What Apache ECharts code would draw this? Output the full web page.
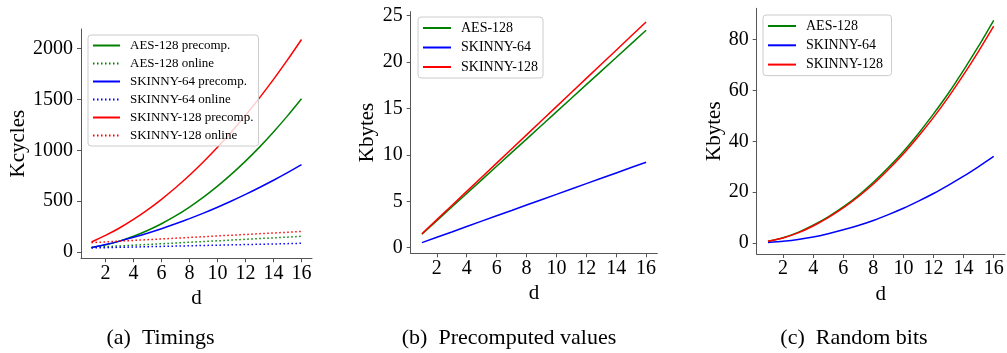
<!DOCTYPE html>
<html><head><meta charset="utf-8">
<script src="https://cdn.jsdelivr.net/npm/echarts@6/dist/echarts.min.js"></script>
<style>html,body{margin:0;padding:0;background:#fff}#c{width:1007px;height:353px}</style>
</head><body><div id="c"></div>
<script>
// ---- data ----
const dValues = [1, 2, 3, 4, 5, 6, 7, 8, 9, 10, 11, 12, 13, 14, 15, 16];
const xTickValues = [2, 4, 6, 8, 10, 12, 14, 16];
const yTicksTimings = [0, 500, 1000, 1500, 2000];
const yTicksPrecomp = [0, 5, 10, 15, 20, 25];
const yTicksRandom = [0, 20, 40, 60, 80];

// (a) Timings, Kcycles
const aesPrecomp    = [45, 70, 107, 154, 211, 278, 354, 442, 539, 647, 765, 893, 1031, 1180, 1338, 1506];
const aesOnline     = [45, 52, 59, 67, 74, 81, 88, 96, 103, 110, 117, 125, 132, 139, 146, 154];
const sk64Precomp   = [43, 73, 107, 144, 185, 229, 277, 328, 382, 440, 501, 566, 634, 705, 780, 859];
const sk64Online    = [40, 43, 46, 49, 52, 55, 58, 61, 64, 67, 70, 73, 76, 79, 82, 86];
const sk128Precomp  = [98, 163, 236, 320, 414, 518, 631, 754, 887, 1029, 1181, 1343, 1515, 1697, 1888, 2089];
const sk128Online   = [92, 99, 107, 114, 121, 128, 136, 143, 150, 158, 165, 172, 180, 187, 194, 202];

// (b) Precomputed values, Kbytes
const precAes   = [1.45, 2.91, 4.38, 5.84, 7.30, 8.77, 10.23, 11.69, 13.16, 14.62, 16.08, 17.55, 19.01, 20.47, 21.94, 23.4];
const precSk64  = [0.55, 1.13, 1.70, 2.28, 2.86, 3.44, 4.01, 4.59, 5.17, 5.74, 6.32, 6.90, 7.47, 8.05, 8.63, 9.2];
const precSk128 = [1.5, 3.02, 4.54, 6.06, 7.58, 9.1, 10.62, 12.14, 13.66, 15.18, 16.7, 18.22, 19.74, 21.26, 22.78, 24.3];

// (c) Random bits, Kbytes
const randAes   = [0.7, 2.1, 4.2, 7.0, 10.3, 14.2, 18.7, 23.9, 29.7, 36.0, 43.1, 50.8, 59.0, 68.0, 77.5, 87.6];
const randSk64  = [0.2, 0.7, 1.4, 2.4, 3.7, 5.2, 6.9, 8.9, 11.2, 13.7, 16.5, 19.5, 22.8, 26.3, 30.1, 34.1];
const randSk128 = [0.7, 2.0, 4.0, 6.7, 10.0, 13.8, 18.2, 23.2, 28.9, 35.1, 42.0, 49.4, 57.5, 66.2, 75.5, 85.3];

const captions = ['(a)  Timings', '(b)  Precomputed values', '(c)  Random bits'];

// ---- styling ----
const FONT = '"Liberation Serif", "Times New Roman", serif';
const AX = '#555';
const GREEN = '#008000', BLUE = '#0000ff', RED = '#ff0000';
const DOT = [1.5, 2.5];

function pairs(ys) { return dValues.map((d, i) => [d, ys[i]]); }
const plain = v => String(v);

function mkX(gi) {
  return {
    type: 'value', gridIndex: gi, min: 0.25, max: 16.75,
    axisLine: { show: true, onZero: false, lineStyle: { color: AX, width: 1 } },
    axisTick: { show: true, length: 4, customValues: xTickValues, lineStyle: { color: AX, width: 1 } },
    axisLabel: { customValues: xTickValues, formatter: plain, margin: 5, fontFamily: FONT, fontSize: 20, color: '#000' },
    splitLine: { show: false },
    name: 'd', nameLocation: 'middle', nameGap: 27,
    nameTextStyle: { fontFamily: FONT, fontSize: 21, color: '#000' }
  };
}
function mkY(gi, min, max, ticks, name, gap) {
  return {
    type: 'value', gridIndex: gi, min: min, max: max,
    axisLine: { show: true, onZero: false, lineStyle: { color: AX, width: 1 } },
    axisTick: { show: true, length: 4, customValues: ticks, lineStyle: { color: AX, width: 1 } },
    axisLabel: { customValues: ticks, formatter: plain, margin: 8, fontFamily: FONT, fontSize: 20, color: '#000' },
    splitLine: { show: false },
    name: name, nameLocation: 'middle', nameGap: gap,
    nameTextStyle: { fontFamily: FONT, fontSize: 21, color: '#000' }
  };
}
function line(name, gi, ys, color, dotted, smooth) {
  return {
    type: 'line', name: name, xAxisIndex: gi, yAxisIndex: gi,
    data: pairs(ys), symbol: 'none', smooth: smooth ? 0.25 : false,
    lineStyle: { color: color, width: 1.5, type: dotted ? DOT : 'solid' },
    itemStyle: { color: color }, emphasis: { disabled: true }, animation: false
  };
}
function legend(left, top, names, fs, gap, iw) {
  return {
    left: left, top: top, orient: 'vertical', data: names,
    itemWidth: iw, itemHeight: 10, itemGap: gap,
    padding: [4, 5, 4, 4],
    itemStyle: { opacity: 0, borderWidth: 0 },
    backgroundColor: 'rgba(255,255,255,0.8)', borderColor: '#cccccc', borderWidth: 1, borderRadius: 3,
    textStyle: { fontFamily: FONT, fontSize: fs, color: '#000', padding: [0, 0, 0, 5] },
    selectedMode: false
  };
}

const chart = echarts.init(document.getElementById('c'), null, { renderer: 'canvas' });
chart.setOption({
  animation: false,
  backgroundColor: '#fff',
  grid: [
    { left: 81, top: 29, width: 231, height: 229.3, containLabel: false },
    { left: 410.7, top: 11.7, width: 246.6, height: 241.6, containLabel: false },
    { left: 756.7, top: 8.3, width: 248.3, height: 245.7, containLabel: false }
  ],
  xAxis: [mkX(0), mkX(1), mkX(2)],
  yAxis: [
    mkY(0, -62, 2192, yTicksTimings, 'Kcycles', 46),
    mkY(1, -0.6, 25.4, yTicksPrecomp, 'Kbytes', 33),
    mkY(2, -4.3, 92.3, yTicksRandom, 'Kbytes', 32)
  ],
  legend: [
    legend(88, 35, ['AES-128 precomp.', 'AES-128 online', 'SKINNY-64 precomp.', 'SKINNY-64 online', 'SKINNY-128 precomp.', 'SKINNY-128 online'], 13, 5, 27),
    legend(418, 17, [{name:'AES-128'}, {name:'SKINNY-64'}, {name:'SKINNY-128'}], 14, 5.5, 28),
    legend(763, 15, [{name:'AES-128 '}, {name:'SKINNY-64 '}, {name:'SKINNY-128 '}], 14, 5.3, 28)
  ],
  series: [
    line('AES-128 precomp.', 0, aesPrecomp, GREEN, false, true),
    line('AES-128 online', 0, aesOnline, GREEN, true, false),
    line('SKINNY-64 precomp.', 0, sk64Precomp, BLUE, false, true),
    line('SKINNY-64 online', 0, sk64Online, BLUE, true, false),
    line('SKINNY-128 precomp.', 0, sk128Precomp, RED, false, true),
    line('SKINNY-128 online', 0, sk128Online, RED, true, false),
    line('AES-128', 1, precAes, GREEN, false, false),
    line('SKINNY-64', 1, precSk64, BLUE, false, false),
    line('SKINNY-128', 1, precSk128, RED, false, false),
    line('AES-128 ', 2, randAes, GREEN, false, true),
    line('SKINNY-64 ', 2, randSk64, BLUE, false, true),
    line('SKINNY-128 ', 2, randSk128, RED, false, true)
  ],
  graphic: [
    { type: 'text', x: 160.5, y: 338, style: { text: captions[0], align: 'center', verticalAlign: 'middle', font: '22px ' + FONT, fill: '#000' } },
    { type: 'text', x: 509, y: 338, style: { text: captions[1], align: 'center', verticalAlign: 'middle', font: '22px ' + FONT, fill: '#000' } },
    { type: 'text', x: 854, y: 338, style: { text: captions[2], align: 'center', verticalAlign: 'middle', font: '22px ' + FONT, fill: '#000' } }
  ]
});
</script></body></html>
